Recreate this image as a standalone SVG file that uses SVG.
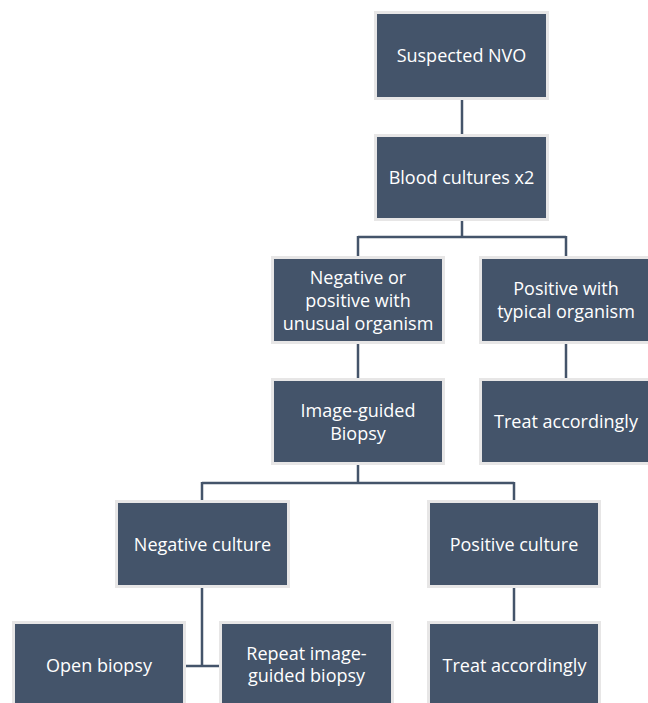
<svg xmlns="http://www.w3.org/2000/svg" width="648" height="703" viewBox="0 0 648 703">
<style>
.box{fill:#44546A;stroke:#E7E6E6;stroke-width:3}
.t{font-family:"Open Sans","Noto Sans",sans-serif;font-size:18px;fill:#FFFFFF;text-anchor:middle}
.c{fill:none;stroke:#44546A;stroke-width:2.5}
</style>
<rect width="648" height="703" fill="#FFFFFF"/>
<g id="connectors">
<path class="c" d="M462 99V135"/>
<path class="c" d="M462 220V237M358 237H566M358 236V257M566 236V257"/>
<path class="c" d="M358 343V379"/>
<path class="c" d="M566 343V379"/>
<path class="c" d="M358 464V483M202 483H514M202 482V501M514 482V501"/>
<path class="c" d="M202 587V666M185 666H220"/>
<path class="c" d="M514 587V622"/>
</g>
<g id="n1"><rect class="box" x="375.5" y="12.5" width="172" height="86"/><text class="t" x="461.5" y="62">Suspected NVO</text></g>
<g id="n2"><rect class="box" x="375.5" y="135.5" width="172" height="84"/><text class="t" x="461.5" y="184">Blood cultures x2</text></g>
<g id="n3"><rect class="box" x="272.5" y="257.5" width="171" height="85"/><text class="t" x="358" y="284">Negative or</text><text class="t" x="358" y="307">positive with</text><text class="t" x="358" y="330">unusual organism</text></g>
<g id="n4"><rect class="box" x="480.5" y="257.5" width="171" height="85"/><text class="t" x="566" y="295">Positive with</text><text class="t" x="566" y="318">typical organism</text></g>
<g id="n5"><rect class="box" x="272.5" y="379.5" width="171" height="84"/><text class="t" x="358" y="416.5">Image-guided</text><text class="t" x="358" y="439.5">Biopsy</text></g>
<g id="n6"><rect class="box" x="480.5" y="379.5" width="171" height="84"/><text class="t" x="566" y="428">Treat accordingly</text></g>
<g id="n7"><rect class="box" x="116.5" y="501.5" width="172" height="85"/><text class="t" x="202.5" y="550.5">Negative culture</text></g>
<g id="n8"><rect class="box" x="428.5" y="501.5" width="171" height="85"/><text class="t" x="514" y="550.5">Positive culture</text></g>
<g id="n9"><rect class="box" x="13.5" y="622.5" width="171" height="85"/><text class="t" x="99" y="672">Open biopsy</text></g>
<g id="n10"><rect class="box" x="220.5" y="622.5" width="172" height="85"/><text class="t" x="306.5" y="660">Repeat image-</text><text class="t" x="306.5" y="682">guided biopsy</text></g>
<g id="n11"><rect class="box" x="428.5" y="622.5" width="171" height="85"/><text class="t" x="514.5" y="672">Treat accordingly</text></g>
</svg>
